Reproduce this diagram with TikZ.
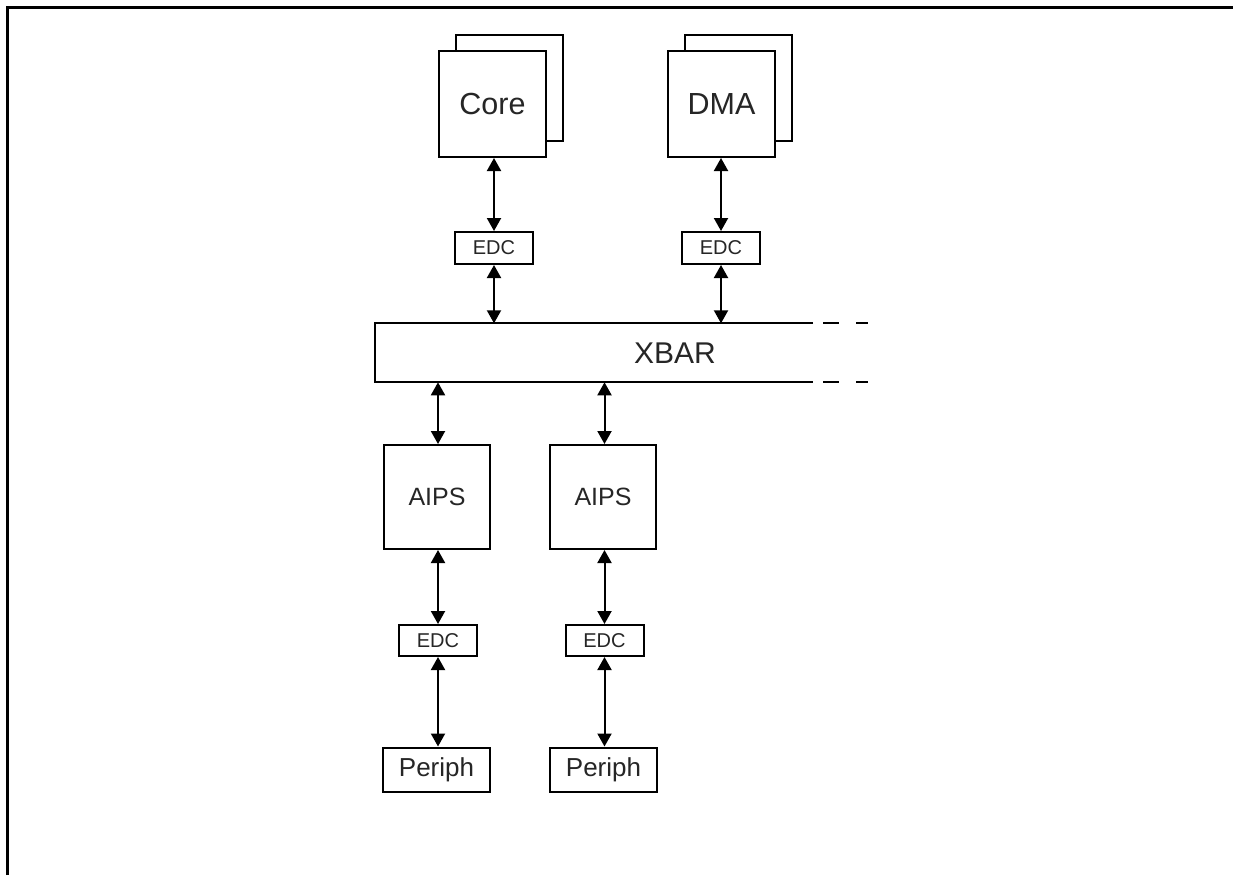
\documentclass[tikz,border=0pt]{standalone}
\usepackage{fontspec}
\setmainfont{Liberation Sans}
\usetikzlibrary{arrows.meta}
\begin{document}
\begin{tikzpicture}[x=1pt,y=-1pt,
  box/.style={draw=black,line width=2pt,fill=white,inner sep=0pt,text=black!85},
  bigbox/.style={box,minimum width=107pt,minimum height=106pt,font=\fontsize{30.5}{30.5}\selectfont},
  edcbox/.style={box,minimum width=78pt,minimum height=32pt,font=\fontsize{20}{20}\selectfont},
  aipsbox/.style={box,minimum width=106pt,minimum height=104pt,font=\fontsize{25}{25}\selectfont},
  perbox/.style={box,minimum width=107pt,minimum height=44pt,font=\fontsize{26}{26}\selectfont},
  link/.style={line width=2pt,{Triangle[length=13pt,width=14pt]}-{Triangle[length=13pt,width=14pt]}},
  frame/.style={line width=3.5pt},
  bar/.style={line width=2pt}]
\useasboundingbox (0,0) rectangle (1233,875);
% outer frame
\draw[frame] (7.5,875) -- (7.5,7.5) -- (1233,7.5);
% Core and DMA stacks
\node[bigbox] (coreback) at (509.5,88) {};
\node[bigbox] (core) at (492.5,104) {Core};
\node[bigbox] (dmaback) at (738.5,88) {};
\node[bigbox] (dma) at (721.5,104) {DMA};
% EDC upper
\node[edcbox] (edc1) at (494,248) {EDC};
\node[edcbox] (edc2) at (721,248) {EDC};
% XBAR
\coordinate (xtl) at (375,323.3);
\coordinate (xbl) at (375,382.3);
\draw[bar] (813,323.3) -- (xtl) -- (xbl) -- (813,382.3);
\draw[bar] (823,323.3) -- (839,323.3) (856,323.3) -- (868,323.3);
\draw[bar] (823,382.3) -- (839,382.3) (856,382.3) -- (868,382.3);
\node[text=black!85,font=\fontsize{30}{30}\selectfont] (xbar) at (675,353) {XBAR};
\coordinate (xt1) at (494,323.3);
\coordinate (xt2) at (721,323.3);
\coordinate (xb1) at (438,382.3);
\coordinate (xb2) at (604.5,382.3);
% AIPS
\node[aipsbox] (aips1) at (437,497) {AIPS};
\node[aipsbox] (aips2) at (603,497) {AIPS};
% EDC lower
\node[edcbox,minimum height=31pt] (edc3) at (438,640.5) {EDC};
\node[edcbox,minimum height=31pt] (edc4) at (604.5,640.5) {EDC};
% Periph
\node[perbox] (per1) at (436.5,769.5) {Periph};
\node[perbox] (per2) at (603.5,769.5) {Periph};
% connectors
\draw[link] (edc1.north |- core.south) -- (edc1.north);
\draw[link] (edc2.north |- dma.south) -- (edc2.north);
\draw[link] (edc1.south) -- (xt1);
\draw[link] (edc2.south) -- (xt2);
\draw[link] (xb1) -- (xb1 |- aips1.north);
\draw[link] (xb2) -- (xb2 |- aips2.north);
\draw[link] (edc3.north |- aips1.south) -- (edc3.north);
\draw[link] (edc4.north |- aips2.south) -- (edc4.north);
\draw[link] (edc3.south) -- (edc3.south |- per1.north);
\draw[link] (edc4.south) -- (edc4.south |- per2.north);
\end{tikzpicture}
\end{document}
